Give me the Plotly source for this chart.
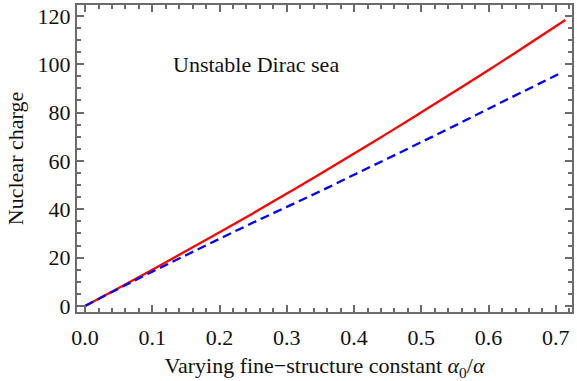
import plotly.graph_objects as go

# Data
x_red = [0.0, 0.05, 0.1, 0.15, 0.2, 0.25, 0.3, 0.35, 0.4, 0.45, 0.5, 0.55, 0.6, 0.65, 0.714]
y_red = [0.0, 7.4, 15.0, 22.7, 30.5, 38.4, 46.5, 54.7, 63.1, 71.5, 80.1, 88.8, 97.6, 106.6, 118.3]

x_blue = [0.0, 0.05, 0.1, 0.15, 0.2, 0.25, 0.3, 0.35, 0.4, 0.45, 0.5, 0.55, 0.6, 0.65, 0.708]
y_blue = [0.0, 7.2, 14.2, 21.0, 27.8, 34.5, 41.0, 47.5, 54.3, 61.0, 67.8, 74.6, 81.6, 88.5, 96.5]

x_ticks = [0.0, 0.1, 0.2, 0.3, 0.4, 0.5, 0.6, 0.7]
x_tick_labels = ["0.0", "0.1", "0.2", "0.3", "0.4", "0.5", "0.6", "0.7"]
y_ticks = [0, 20, 40, 60, 80, 100, 120]
y_tick_labels = ["0", "20", "40", "60", "80", "100", "120"]

FONT = "Liberation Serif, Times New Roman, serif"
FRAME = "#6b6b6b"

fig = go.Figure()
fig.add_trace(go.Scatter(x=x_red, y=y_red, mode="lines",
                         line=dict(color="#ff0000", width=2.3), line_shape="spline",
                         showlegend=False))
fig.add_trace(go.Scatter(x=x_blue, y=y_blue, mode="lines",
                         line=dict(color="#0000ff", width=2.3, dash="9px,5px"), line_shape="spline",
                         showlegend=False))

fig.add_annotation(x=0.128, y=99.8, xref="x", yref="y", text="Unstable Dirac sea",
                   showarrow=False, xanchor="left", yanchor="middle",
                   font=dict(family=FONT, size=22, color="#111111"))

axis_common = dict(
    showgrid=False, zeroline=False, showline=True, linecolor=FRAME, linewidth=2,
    mirror="allticks", ticks="inside", tickcolor=FRAME, tickwidth=1.5, ticklen=7,
    tickfont=dict(family=FONT, size=22, color="#111111"),
)

fig.update_xaxes(range=[-0.012, 0.724], tickvals=x_ticks, ticktext=x_tick_labels,
                 ticklabelstandoff=5,
                 minor=dict(dtick=0.02, ticks="inside", ticklen=4, tickcolor=FRAME, tickwidth=1.5),
                 title=dict(text="Varying fine\u2212structure constant <i>α</i><sub>0</sub>/<i>α</i>",
                            font=dict(family=FONT, size=22, color="#111111"), standoff=10),
                 **axis_common)
fig.update_yaxes(range=[-2.5, 124.5], tickvals=y_ticks, ticktext=y_tick_labels,
                 minor=dict(dtick=5, ticks="inside", ticklen=4, tickcolor=FRAME, tickwidth=1.5),
                 title=dict(text="Nuclear charge", font=dict(family=FONT, size=22, color="#111111"),
                            standoff=8),
                 **axis_common)

fig.update_layout(width=577, height=381, margin=dict(l=77, r=3, t=4, b=69),
                  plot_bgcolor="white", paper_bgcolor="white")

fig.write_html("out.html")
